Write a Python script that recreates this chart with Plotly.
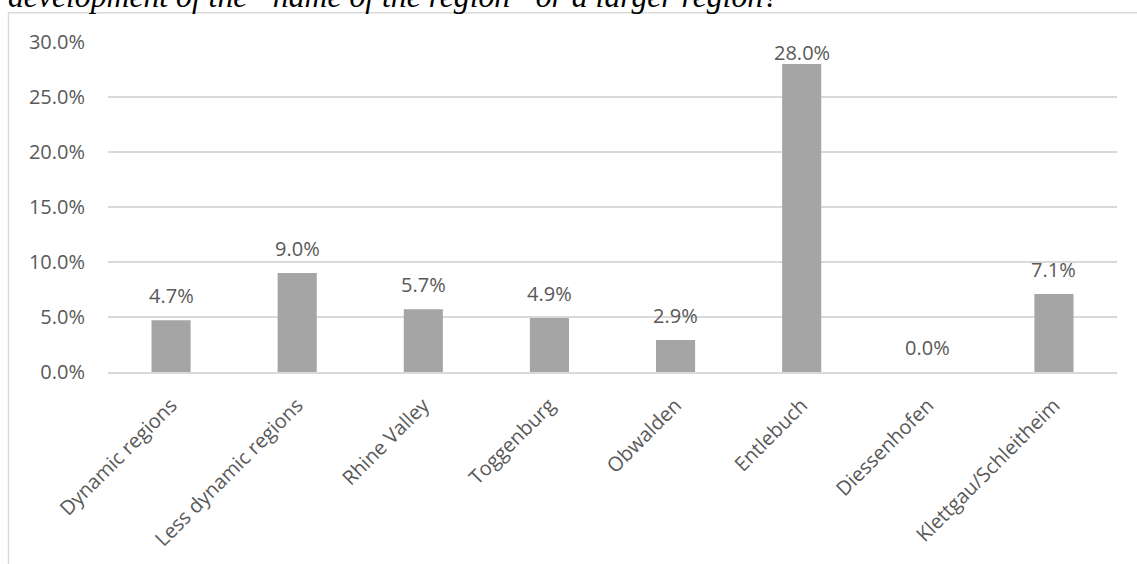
import plotly.graph_objects as go

categories = ["Dynamic regions", "Less dynamic regions", "Rhine Valley", "Toggenburg",
              "Obwalden", "Entlebuch", "Diessenhofen", "Klettgau/Schleitheim"]
shares = [0.047, 0.090, 0.057, 0.049, 0.029, 0.280, 0.000, 0.071]
y_ticks = [0.0, 0.05, 0.10, 0.15, 0.20, 0.25, 0.30]
title_text = "development of the \u201cname of the region\u201d or a larger region?"

W, H = 1137, 564
L, R, T, B = 108, 20, 42, 188
pw, ph = W - L - R, H - T - B
YMAX = 0.30

def px_x(x):
    return (x - L) / pw

def px_y(y):
    return (H - B - y) / ph

font_fam = "Open Sans"
txt_col = "#595959"

fig = go.Figure(go.Bar(
    x=categories, y=shares,
    marker=dict(color="#a5a5a5", line=dict(width=0)),
    width=0.31, hoverinfo="x+y",
))

# data labels: fixed gap above bar, kept inside the plot area (like the original)
annotations = []
for c, v in zip(categories, shares):
    bar_top_from_plot_top = ph * (1 - v / YMAX)
    shift = 9
    label_top = bar_top_from_plot_top - shift - 22
    if label_top < 4:
        shift -= (4 - label_top)
    annotations.append(dict(x=c, y=v, xref="x", yref="y", text=f"{v*100:.1f}%",
                            showarrow=False, yanchor="bottom", yshift=shift,
                            font=dict(family=font_fam, size=20, color=txt_col)))

annotations.append(dict(text="<i>" + title_text + "</i>", xref="paper", yref="paper",
                        x=px_x(6), y=px_y(16), xanchor="left", yanchor="bottom",
                        showarrow=False,
                        font=dict(family="Liberation Serif", size=31.7, color="black")))

fig.update_layout(
    width=W, height=H,
    margin=dict(l=L, r=R, t=T, b=B, pad=0),
    paper_bgcolor="white", plot_bgcolor="white",
    showlegend=False,
    font=dict(family=font_fam, size=20, color=txt_col),
    yaxis=dict(range=[0, YMAX], tickvals=y_ticks, tickformat=".1%",
               showgrid=True, gridcolor="#d9d9d9", gridwidth=1.5,
               zeroline=False, showline=False, ticks="",
               ticklabelstandoff=22,
               tickfont=dict(family=font_fam, size=20, color=txt_col)),
    xaxis=dict(showgrid=False, showline=True, linecolor="#d9d9d9", linewidth=1.5,
               ticks="", tickangle=-45, ticklabelstandoff=12,
               tickfont=dict(family=font_fam, size=20, color=txt_col)),
    shapes=[dict(type="rect", xref="paper", yref="paper",
                 x0=px_x(8.5), x1=px_x(1150), y0=px_y(580), y1=px_y(12.5),
                 line=dict(color="#d9d9d9", width=1.5), fillcolor="rgba(0,0,0,0)",
                 layer="below")],
    annotations=annotations,
)

fig.write_html("out.html")
